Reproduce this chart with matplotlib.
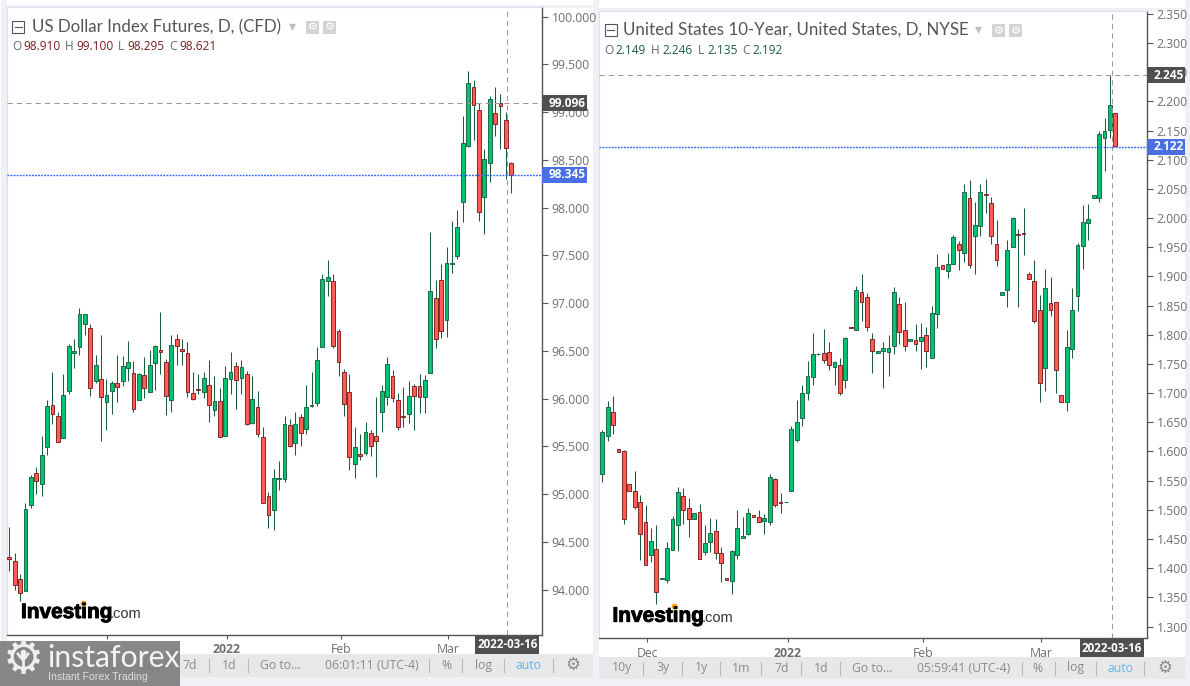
import matplotlib
matplotlib.use('Agg')
import matplotlib.pyplot as plt
import matplotlib.patheffects as pe
from matplotlib.patches import Rectangle

plt.rcParams['font.family'] = ['Open Sans', 'DejaVu Sans']

# US Dollar Index Futures, daily candles
usd_open = [94.343, 94.301, 94.112, 93.983, 94.887, 95.222, 95.107, 95.494, 95.934, 95.819,
            95.589, 96.081, 96.479, 96.541, 96.782, 96.740, 96.185, 96.206, 95.966, 96.081,
            96.165, 96.185, 96.322, 96.269, 95.987, 96.248, 96.070, 96.374, 96.510, 96.384,
            95.987, 96.625, 96.520, 96.479, 96.060, 96.102, 96.070, 96.144, 95.882, 95.976,
            95.610, 96.206, 96.342, 96.217, 96.259, 95.746, 95.913, 95.599, 94.981, 94.835,
            95.163, 95.156, 95.725, 95.536, 95.809, 95.683, 95.920, 95.955, 96.541, 97.232,
            97.232, 96.709, 96.280, 96.070, 95.316, 95.421, 95.432, 95.641, 95.610, 95.861,
            96.018, 96.238, 95.987, 95.815, 95.840, 96.133, 96.133, 96.018, 96.269, 97.054,
            97.243, 96.824, 97.414, 97.494, 98.064, 98.643, 99.261, 99.020, 98.109, 98.472,
            98.988, 99.093, 98.915, 98.465]
usd_high = [94.657, 94.385, 94.165, 94.908, 95.205, 95.285, 95.613, 95.990, 96.283, 95.861,
            96.262, 96.576, 96.625, 96.950, 96.887, 96.786, 96.461, 96.671, 96.206, 96.189,
            96.461, 96.451, 96.608, 96.398, 96.269, 96.440, 96.514, 96.566, 96.908, 96.416,
            96.671, 96.681, 96.625, 96.594, 96.280, 96.262, 96.280, 96.405, 96.241, 96.112,
            96.346, 96.489, 96.384, 96.405, 96.294, 96.241, 96.084, 95.704, 95.023, 95.268,
            95.348, 95.822, 95.788, 95.861, 95.843, 96.144, 96.276, 96.545, 97.309, 97.456,
            97.309, 96.730, 96.311, 96.262, 95.707, 95.634, 95.760, 95.676, 96.021, 96.144,
            96.437, 96.304, 96.060, 96.123, 96.185, 96.154, 96.262, 96.252, 97.745, 97.239,
            97.410, 97.588, 97.864, 97.979, 98.960, 99.432, 99.337, 99.093, 98.615, 99.170,
            99.261, 99.191, 99.006, 98.475]
usd_low = [94.193, 94.001, 93.879, 93.983, 94.852, 95.006, 94.978, 95.414, 95.739, 95.547,
           95.589, 96.053, 96.325, 96.454, 96.671, 96.025, 96.164, 95.554, 95.676, 95.843,
           95.966, 96.137, 96.182, 95.857, 95.983, 96.004, 96.070, 96.088, 96.262, 95.826,
           95.857, 96.349, 96.349, 96.018, 95.983, 96.053, 96.007, 95.753, 95.815, 95.599,
           95.610, 96.053, 95.896, 96.049, 95.725, 95.739, 95.599, 94.908, 94.650, 94.622,
           95.048, 95.124, 95.498, 95.414, 95.501, 95.634, 95.913, 95.920, 96.541, 97.072,
           96.527, 96.234, 95.815, 95.250, 95.166, 95.355, 95.411, 95.397, 95.177, 95.648,
           95.934, 95.962, 95.676, 95.700, 95.746, 95.672, 95.850, 95.850, 96.269, 96.531,
           96.636, 96.646, 97.316, 97.463, 97.854, 98.639, 98.709, 97.865, 97.725, 98.273,
           98.755, 98.615, 98.301, 98.158]
usd_close = [94.322, 94.050, 93.966, 94.845, 95.180, 95.138, 95.411, 95.924, 95.840, 95.547,
             96.039, 96.552, 96.500, 96.887, 96.887, 96.112, 96.353, 96.018, 96.039, 96.165,
             96.123, 96.342, 96.384, 95.892, 96.259, 96.112, 96.353, 96.552, 96.489, 96.028,
             96.562, 96.552, 96.500, 96.070, 95.997, 96.091, 96.217, 95.934, 95.976, 95.599,
             96.217, 96.280, 96.196, 96.332, 95.735, 95.997, 95.630, 94.908, 94.782, 95.170,
             95.170, 95.735, 95.505, 95.735, 95.641, 95.913, 95.931, 96.405, 97.253, 97.274,
             96.552, 96.384, 95.945, 95.390, 95.494, 95.400, 95.651, 95.505, 95.557, 96.081,
             96.363, 96.007, 95.704, 95.808, 96.028, 96.028, 96.018, 96.196, 97.128, 96.625,
             96.709, 97.421, 97.421, 97.798, 98.674, 99.303, 99.079, 97.959, 98.507, 99.135,
             98.880, 99.069, 98.629, 98.346]

# United States 10-Year yield, daily candles
us10y_open = [1.561, 1.626, 1.667, 1.604, 1.600, 1.544, 1.533, 1.513, 1.479, 1.422,
              1.432, 1.381, 1.379, 1.431, 1.474, 1.523, 1.503, 1.484, 1.496, 1.427,
              1.444, 1.463, 1.426, 1.383, 1.378, 1.422, 1.451, 1.458, 1.491, 1.487,
              1.480, 1.479, 1.552, 1.513, 1.513, 1.533, 1.619, 1.657, 1.701, 1.727,
              1.767, 1.768, 1.770, 1.744, 1.749, 1.722, 1.814, 1.808, 1.874, 1.864,
              1.792, 1.768, 1.773, 1.770, 1.780, 1.852, 1.809, 1.789, 1.791, 1.789,
              1.799, 1.760, 1.835, 1.919, 1.909, 1.922, 1.955, 1.940, 2.034, 1.969,
              1.986, 2.041, 2.025, 1.955, 1.869, 1.876, 1.950, 1.972, 1.974, 1.904,
              1.893, 1.842, 1.743, 1.854, 1.856, 1.696, 1.684, 1.775, 1.866, 1.952,
              1.991, 2.035, 2.035, 2.137, 2.151, 2.180]
us10y_high = [1.637, 1.686, 1.695, 1.604, 1.602, 1.544, 1.567, 1.525, 1.508, 1.468,
              1.474, 1.383, 1.444, 1.489, 1.539, 1.537, 1.521, 1.494, 1.510, 1.474,
              1.486, 1.484, 1.436, 1.383, 1.431, 1.499, 1.487, 1.503, 1.491, 1.499,
              1.492, 1.561, 1.554, 1.528, 1.513, 1.643, 1.688, 1.714, 1.755, 1.803,
              1.768, 1.810, 1.787, 1.755, 1.761, 1.796, 1.814, 1.883, 1.904, 1.871,
              1.803, 1.773, 1.787, 1.800, 1.882, 1.865, 1.856, 1.792, 1.818, 1.821,
              1.813, 1.849, 1.938, 1.919, 1.940, 1.971, 1.961, 2.058, 2.065, 2.028,
              2.058, 2.067, 2.036, 1.997, 1.874, 1.962, 2.001, 1.982, 2.017, 1.907,
              1.928, 1.868, 1.913, 1.899, 1.856, 1.696, 1.808, 1.880, 1.958, 2.022,
              2.024, 2.040, 2.149, 2.172, 2.246, 2.180]
us10y_low = [1.548, 1.618, 1.630, 1.599, 1.476, 1.533, 1.501, 1.414, 1.405, 1.411,
             1.338, 1.381, 1.374, 1.431, 1.430, 1.475, 1.454, 1.484, 1.415, 1.422,
             1.427, 1.415, 1.376, 1.379, 1.356, 1.416, 1.451, 1.456, 1.487, 1.479,
             1.458, 1.474, 1.504, 1.494, 1.513, 1.532, 1.617, 1.643, 1.688, 1.714,
             1.766, 1.752, 1.740, 1.714, 1.697, 1.709, 1.811, 1.808, 1.824, 1.807,
             1.735, 1.768, 1.709, 1.729, 1.767, 1.785, 1.772, 1.789, 1.772, 1.741,
             1.745, 1.760, 1.812, 1.912, 1.897, 1.922, 1.911, 1.925, 1.914, 1.904,
             1.970, 2.009, 1.955, 1.918, 1.869, 1.848, 1.950, 1.848, 1.937, 1.895,
             1.820, 1.685, 1.703, 1.833, 1.701, 1.684, 1.670, 1.761, 1.840, 1.913,
             1.962, 2.035, 2.028, 2.080, 2.138, 2.124]
us10y_close = [1.634, 1.677, 1.645, 1.599, 1.484, 1.533, 1.504, 1.458, 1.405, 1.446,
               1.359, 1.383, 1.434, 1.484, 1.530, 1.499, 1.484, 1.494, 1.415, 1.443,
               1.460, 1.426, 1.408, 1.379, 1.429, 1.468, 1.455, 1.494, 1.487, 1.479,
               1.486, 1.557, 1.508, 1.512, 1.513, 1.638, 1.650, 1.701, 1.729, 1.767,
               1.767, 1.756, 1.748, 1.753, 1.701, 1.794, 1.811, 1.876, 1.856, 1.813,
               1.772, 1.773, 1.777, 1.777, 1.874, 1.804, 1.780, 1.792, 1.785, 1.796,
               1.773, 1.837, 1.917, 1.912, 1.921, 1.967, 1.946, 2.044, 1.919, 1.988,
               2.044, 2.040, 1.970, 1.928, 1.874, 1.945, 2.000, 1.971, 1.973, 1.895,
               1.823, 1.717, 1.880, 1.842, 1.739, 1.684, 1.779, 1.842, 1.953, 1.994,
               1.998, 2.040, 2.144, 2.150, 2.193, 2.124]

usd_ticks = [94.0, 94.5, 95.0, 95.5, 96.0, 96.5, 97.0, 97.5, 98.0, 98.5, 99.0, 99.5, 100.0]
us10y_ticks = [1.30, 1.35, 1.40, 1.45, 1.50, 1.55, 1.60, 1.65, 1.70, 1.75, 1.80, 1.85, 1.90,
               1.95, 2.00, 2.05, 2.10, 2.15, 2.20, 2.25, 2.30, 2.35]
month_labels = ['Dec', '2022', 'Feb', 'Mar']
usd_month_pos = [18.1, 40.3, 61.4, 81.3]
us10y_month_pos = [8.3, 34.3, 59.3, 81.3]

GREEN = '#05c175'
RED = '#ff5d52'
GREEN_EDGE = '#1b6b45'
RED_EDGE = '#86252a'
WICK = '#1c5c3e'
TEXT = '#6f6f6f'
W, H = 1190, 686


def candles(ax, o, h, l, c):
    x = list(range(len(o)))
    up = [ci >= oi for oi, ci in zip(o, c)]
    ax.vlines(x, l, h, color=WICK, lw=0.75, zorder=2)
    ax.bar(x, [abs(ci - oi) for oi, ci in zip(o, c)], bottom=[min(oi, ci) for oi, ci in zip(o, c)],
           width=0.7, color=[GREEN if u else RED for u in up],
           edgecolor=[GREEN_EDGE if u else RED_EDGE for u in up], linewidth=0.7, zorder=3)


def tag(ax, price, text, color, width_px):
    # label box sitting on the price scale, 16 px tall
    bbox = ax.get_window_extent()
    y0, y1 = ax.get_ylim()
    hd = 16 * (y1 - y0) / bbox.height
    ax.add_patch(Rectangle((1, price - hd / 2), width_px / bbox.width, hd, transform=ax.get_yaxis_transform(),
                           fc=color, ec='none', clip_on=False, zorder=9))
    ax.text(1 + 7 / bbox.width, price, text, transform=ax.get_yaxis_transform(), color='white', fontsize=8.6,
            fontweight='bold', va='center', ha='left', zorder=10, clip_on=False)


def chart(rect, xlim, ylim, o, h, l, c, yticks, month_pos, cross_x, high_line, last_line):
    x0, y0, x1, y1 = rect
    ax = fig.add_axes([x0 / W, 1 - y1 / H, (x1 - x0) / W, (y1 - y0) / H], zorder=1)
    ax.set_facecolor('white')
    candles(ax, o, h, l, c)
    ax.axhline(high_line, color='#999999', lw=0.75, ls=(0, (5, 4)), zorder=4)
    ax.axhline(last_line, color='#2962ff', lw=1, ls=(0, (1.3, 0.9)), zorder=4)
    ax.axvline(cross_x, color='#999999', lw=0.75, ls=(0, (5, 4)), zorder=4)
    ax.set_xlim(xlim)
    ax.set_ylim(ylim)
    ax.yaxis.tick_right()
    ax.set_yticks(yticks)
    ax.set_yticklabels(['%.3f' % t for t in yticks])
    ax.set_xticks(month_pos)
    ax.set_xticklabels(month_labels)
    ax.tick_params(axis='y', length=4, width=0.8, color='#555555', labelcolor=TEXT, labelsize=8.8, pad=3)
    ax.tick_params(axis='x', length=3, width=0.8, color='#555555', labelcolor=TEXT, labelsize=8.8, pad=3)
    ax.get_xticklabels()[1].set_fontweight('bold')
    for side in ['left', 'top']:
        ax.spines[side].set_color('#dcdfe6')
    for side in ['right', 'bottom']:
        ax.spines[side].set_color('#555555')
        ax.spines[side].set_linewidth(1)
    # date label under the crosshair
    bbox = ax.get_window_extent()
    xa, xb = ax.get_xlim()
    wd = 64 * (xb - xa) / bbox.width
    ax.add_patch(Rectangle((cross_x - wd / 2, -19 / bbox.height), wd, 18 / bbox.height, transform=ax.get_xaxis_transform(),
                           fc='#4f4f4f', ec='none', clip_on=False, zorder=9))
    ax.text(cross_x, -10 / bbox.height, '2022-03-16', transform=ax.get_xaxis_transform(), color='white',
            fontsize=8.4, fontweight='bold', ha='center', va='center', zorder=10, clip_on=False)
    return ax


fig = plt.figure(figsize=(11.9, 6.86), dpi=100, facecolor='white')

# pixel space layers for the page furniture
back = fig.add_axes([0, 0, 1, 1], zorder=0)
front = fig.add_axes([0, 0, 1, 1], zorder=2)
for a in (back, front):
    a.set_xlim(0, W)
    a.set_ylim(H, 0)
    a.axis('off')

STRIP = '#eff1f7'
for x, y, w, h in [(1, 0, 6, 686), (593, 0, 6, 686), (1185, 0, 5, 686),
                   (1, 676, 598, 10), (599, 679, 591, 7), (1, 5, 592, 2.5), (599, 8, 586, 2.5)]:
    back.add_patch(Rectangle((x, y), w, h, fc=STRIP, ec='none'))

ax1 = chart((7, 7.3, 542, 635), (-0.426, 98.69), (93.526, 100.098), usd_open, usd_high, usd_low, usd_close,
            usd_ticks, usd_month_pos, 92.26, 99.096, 98.345)
tag(ax1, 99.096, '99.096', '#4f4f4f', 45)
tag(ax1, 98.345, '98.345', '#4a6fe3', 45)

ax2 = chart((599, 10.7, 1146.7, 638.3), (-0.611, 100.8), (1.2798, 2.3554), us10y_open, us10y_high, us10y_low, us10y_close,
            us10y_ticks, us10y_month_pos, 94.4, 2.245, 2.122)
tag(ax2, 2.245, '2.245', '#4f4f4f', 38.5)
tag(ax2, 2.122, '2.122', '#4a6fe3', 38.5)


def toolbar(y0, y1, x0, x1, items, seps, clock):
    back.add_patch(Rectangle((x0, y0), x1 - x0, y1 - y0, fc='#e8e8e8', ec='none'))
    ym = (y0 + y1) / 2
    for x, t in items:
        color = '#5bb8ec' if t == 'auto' else '#8a8a8a'
        back.text(x, ym, t, color=color, fontsize=8.8, ha='center', va='center')
    for x in seps:
        back.plot([x, x], [ym - 6.5, ym + 6.5], color='#b9b9b9', lw=0.8)
    back.text(clock[0], ym, clock[1], color='#8a8a8a', fontsize=8.8, ha='center', va='center')
    back.text(items[-1][0] + 44, ym, '\u2699', color='#8a8a8a', fontsize=12, ha='center', va='center',
              family='DejaVu Sans')


toolbar(654, 677, 7, 593,
        [(29, '10y'), (71, '3y'), (110, '1y'), (150, '1m'), (190, '7d'), (229, '1d'), (280.5, 'Go to...'),
         (446, '%'), (484, 'log'), (529, 'auto')],
        [208.6, 247.6, 429, 462, 503.6, 552.6], (372, '06:01:11 (UTC-4)'))
toolbar(656.7, 679.3, 599, 1185,
        [(621.6, '10y'), (663, '3y'), (701.6, '1y'), (741.5, '1m'), (781.7, '7d'), (820.8, '1d'), (872.4, 'Go to...'),
         (1037.9, '%'), (1075.4, 'log'), (1120.6, 'auto')],
        [643.2, 681.5, 719.5, 761.2, 800.7, 839.8, 1021.6, 1055, 1096, 1144], (963.9, '05:59:41 (UTC-4)'))


def header(title, title_x, y, box_x, arrow_x, icons_x, labels, value_color):
    front.add_patch(Rectangle((box_x, y - 6), 12, 12, fc='none', ec='#555555', lw=0.8))
    front.plot([box_x + 2.5, box_x + 9.5], [y, y], color='#555555', lw=0.8)
    front.text(title_x, y, title, color='#555555', fontsize=12.2, ha='left', va='center', family='Lato')
    front.text(arrow_x, y - 0.5, '\u25be', color='#bdbdbd', fontsize=10, ha='center', va='center', family='DejaVu Sans')
    for x in icons_x:
        front.add_patch(Rectangle((x, y - 6), 13, 13, fc='#d4d4d4', ec='none'))
        front.text(x + 6.5, y + 0.5, '\u2699', color='white', fontsize=8, ha='center', va='center', family='DejaVu Sans')
    for lx, letter, vx, value in labels:
        front.text(lx, y + 20, letter, color='#666666', fontsize=8.6, ha='left', va='center')
        front.text(vx, y + 20, value, color=value_color, fontsize=8.6, ha='left', va='center')


header('US Dollar Index Futures, D, (CFD)', 31.5, 27, 12, 292, [306, 323],
       [(12, 'O', 23, '98.910'), (65, 'H', 76, '99.100'), (118, 'L', 127, '98.295'), (169, 'C', 179, '98.621')],
       '#7a1f1f')
header('United States 10-Year, United States, D, NYSE', 623, 30, 604.5, 978, [992, 1009],
       [(604.5, 'O', 615.5, '2.149'), (651, 'H', 662, '2.246'), (697.5, 'L', 707, '2.135'), (742, 'C', 752, '2.192')],
       '#1c5e42')


def logo(x, y):
    t = front.text(x, y, 'Investing', color='black', fontsize=15, fontweight='bold', ha='left', va='baseline',
                   family='Liberation Sans')
    t.set_path_effects([pe.withStroke(linewidth=0.7, foreground='black')])
    front.text(x + 89, y, '.com', color='#333333', fontsize=10.5, ha='left', va='baseline', family='Liberation Sans')
    front.plot([x + 61.7], [y - 15.5], 'o', color='#f5a31a', ms=3.2)


logo(21, 618)
logo(612.5, 621.7)

# instaforex watermark
front.add_patch(Rectangle((0, 641), 180, 45, fc='#7f7f7f', ec='none', alpha=0.93))
front.text(23, 660, '\u2699', color='#eeeeee', fontsize=33, ha='center', va='center', family='DejaVu Sans')
front.plot([23, 23], [660, 672], color='#eeeeee', lw=2)
front.plot([18, 23, 28], [654, 660, 654], color='#eeeeee', lw=2)
front.plot([23], [652], 'o', color='#eeeeee', ms=3)
front.text(47, 658, 'instaforex', color='#f4f4f4', fontsize=21.7, ha='left', va='center', family='Lato')
front.text(48, 677, 'Instant Forex Trading', color='#dddddd', fontsize=7.6, ha='left', va='center', family='Liberation Sans')

fig.savefig('out.png', dpi=100)
